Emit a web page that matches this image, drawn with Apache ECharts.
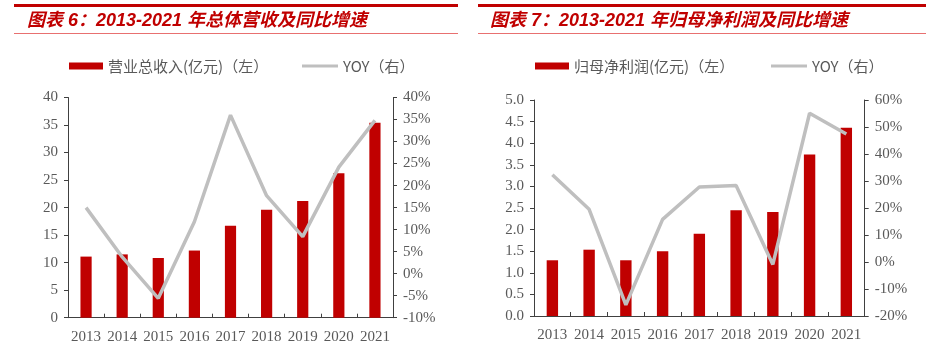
<!DOCTYPE html>
<html><head><meta charset="utf-8">
<script src="https://cdn.jsdelivr.net/npm/echarts@6/dist/echarts.min.js"></script>
<style>html,body{margin:0;padding:0;background:#fff}#c{width:926px;height:345px}</style>
</head><body><div id="c"></div>
<script>
var years = ['2013','2014','2015','2016','2017','2018','2019','2020','2021'];
var revenue = [11.1, 11.5, 10.85, 12.2, 16.7, 19.6, 21.2, 26.25, 35.4];
var revenueYoy = [15.0, 3.8, -5.6, 11.8, 36.0, 17.7, 8.4, 24.2, 34.8];
var profit = [1.29, 1.535, 1.29, 1.50, 1.905, 2.45, 2.41, 3.74, 4.36];
var profitYoy = [32.3, 19.5, -15.9, 15.8, 27.8, 28.3, -0.9, 55.1, 47.4];
var title1 = '图表 6：2013-2021 年总体营收及同比增速';
var title2 = '图表 7：2013-2021 年归母净利润及同比增速';
var barName1 = '营业总收入(亿元)（左）';
var barName2 = '归母净利润(亿元)（左）';
var lineName1 = 'YOY（右）';
var lineName2 = 'YOY（右） ';

var RED = '#C00000', GRAY = '#BFBFBF', AX = '#404040', LBL = '#595959';
var serif = '"Liberation Serif","Times New Roman",serif';
var cjk = '"Noto Sans CJK SC","Noto Sans",sans-serif';

function xAxis(gi){
  return {type:'category', gridIndex:gi, data:years,
    axisLine:{lineStyle:{color:AX,width:1}},
    axisTick:{show:true, inside:true, length:4, lineStyle:{color:AX}},
    axisLabel:{color:LBL, fontFamily:serif, fontSize:15, margin:12, interval:0}};
}
function yAxis(gi,pos,min,max,interval,fmt,margin){
  return {type:'value', gridIndex:gi, position:pos, min:min, max:max, interval:interval,
    splitLine:{show:false},
    axisLine:{show:true, lineStyle:{color:AX,width:1}},
    axisTick:{show:true, length:4, lineStyle:{color:AX}},
    axisLabel:{color:LBL, fontFamily:serif, fontSize:15, margin:margin, formatter:fmt}};
}
function legend(left,name,w,h){
  return {left:left, top:66 - 8, padding:0, itemWidth:w, itemHeight:h, itemGap:5, selectedMode:false,
    icon:'rect', data:[{name:name}],
    textStyle:{color:LBL, fontFamily:cjk, fontSize:15, lineHeight:16}};
}
var chart = echarts.init(document.getElementById('c'), null, {renderer:'canvas'});
chart.setOption({
  animation:false,
  grid:[
    {left:68, right:533, top:97.5, bottom:27.3, containLabel:false},
    {left:534, right:61.3, top:100, bottom:29, containLabel:false}
  ],
  xAxis:[xAxis(0), xAxis(1)],
  yAxis:[
    yAxis(0,'left',0,40,5,function(v){return v;},10),
    yAxis(0,'right',-10,40,5,function(v){return v+'%';},10),
    yAxis(1,'left',0,5,0.5,function(v){return v.toFixed(1);},10),
    yAxis(1,'right',-20,60,10,function(v){return v+'%';},10)
  ],
  legend:[
    legend(69,barName1,34,7),
    legend(302,lineName1,36,3),
    legend(535,barName2,34,7),
    legend(771,lineName2,36,3)
  ],
  series:[
    {name:barName1, type:'bar', xAxisIndex:0, yAxisIndex:0, data:revenue, barWidth:'31%', itemStyle:{color:RED}},
    {name:lineName1, type:'line', xAxisIndex:0, yAxisIndex:1, data:revenueYoy, symbol:'none', lineStyle:{color:GRAY,width:3.5}, itemStyle:{color:GRAY}},
    {name:barName2, type:'bar', xAxisIndex:1, yAxisIndex:2, data:profit, barWidth:'31%', itemStyle:{color:RED}},
    {name:lineName2, type:'line', xAxisIndex:1, yAxisIndex:3, data:profitYoy, symbol:'none', lineStyle:{color:GRAY,width:3.5}, itemStyle:{color:GRAY}}
  ],
  graphic:[
    {type:'rect', shape:{x:14,y:4,width:444,height:3}, style:{fill:RED}},
    {type:'rect', shape:{x:14,y:33,width:444,height:1}, style:{fill:'#E87070'}},
    {type:'text', x:27, y:21, style:{text:title1, fill:RED, font:'italic bold 18px "Liberation Sans", "Noto Sans CJK SC", sans-serif', textVerticalAlign:'middle'}},
    {type:'rect', shape:{x:478,y:4,width:448,height:3}, style:{fill:RED}},
    {type:'rect', shape:{x:478,y:33,width:448,height:1}, style:{fill:'#E87070'}},
    {type:'text', x:490, y:21, style:{text:title2, fill:RED, font:'italic bold 18px "Liberation Sans", "Noto Sans CJK SC", sans-serif', textVerticalAlign:'middle'}}
  ]
});
</script></body></html>
